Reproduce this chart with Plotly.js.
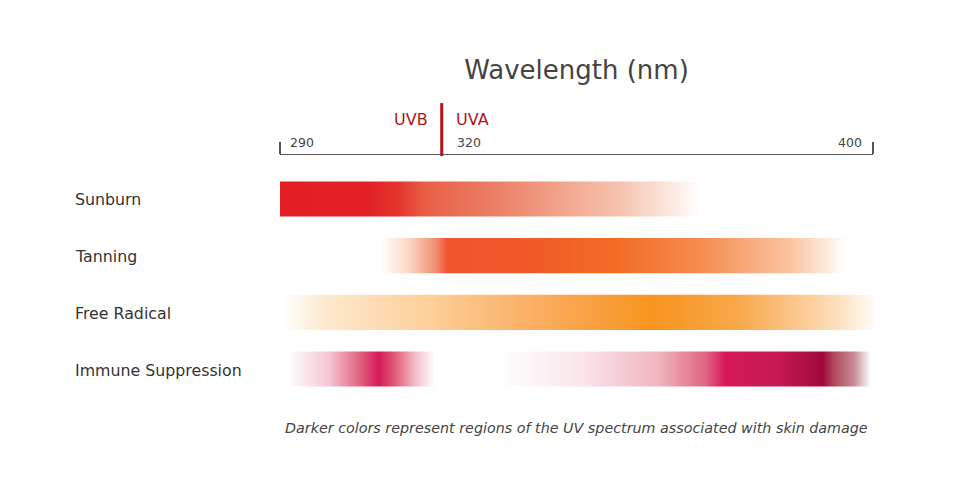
<!DOCTYPE html>
<html>
<head>
<meta charset="utf-8">
<script src="https://cdn.plot.ly/plotly-3.0.1.min.js"></script>
<style>html,body{margin:0;padding:0;background:#fff;}#chart{width:960px;height:483px;}</style>
</head>
<body>
<div id="chart"></div>
<script>
// ---- data ----
const effects = ["Sunburn", "Tanning", "Free Radical", "Immune Suppression"];

const sunburnNm = [290, 307, 312, 317, 331, 344, 353, 360, 368];
const sunburnColors = ["#E31E25", "#E32228", "#E4372D", "#E85F46", "#EC8269", "#F2AA91", "#F6C3AF", "#FADED2", "#FFFFFF"];

const tanningNm = [308.5, 314, 319, 321, 334.5, 351, 368, 384.5, 395];
const tanningColors = ["#FFFFFF", "#FAD7C3", "#F08C6E", "#EF552D", "#F0582A", "#F26A24", "#F58C50", "#FAC3A0", "#FFFFFF"];

const radicalNm = [290.4, 299, 317, 338.5, 359, 375, 389, 395, 400];
const radicalColors = ["#FFFFFF", "#FDE8CD", "#FDD09B", "#FAAC5F", "#F7941E", "#F8A84B", "#FCD0A0", "#FEE6CC", "#FFFAF5"];

const immuneNm = [291.3, 299, 304.7, 308.4, 311.3, 315.6, 318.8, 330, 345.8, 360.3, 369, 372.5, 382, 390.7, 392.7, 396.5, 399.6];
const immuneColors = ["#FFFFFF", "#F5C8D2", "#E16482", "#D7195A", "#E15A78", "#F5C8D2", "#FFFFFF", "#FFFFFF", "#FAE6EB", "#F0B4BE", "#E16482", "#D7195A", "#C81955", "#A00A3C", "#AF4658", "#C88C96", "#FFFFFF"];

const tickValues = [290, 320, 400];
const tickLabels = ["290", "320", "400"];
const uvBoundary = 320;
const axisTitle = "Wavelength (nm)";
const caption = "Darker colors represent regions of the UV spectrum associated with skin damage";

// ---- build ----
const rows = [
  [sunburnNm, sunburnColors],
  [tanningNm, tanningColors],
  [radicalNm, radicalColors],
  [immuneNm, immuneColors]
];
const half = 0.31;
const FONT = "DejaVu Sans, Verdana, sans-serif";

const traces = rows.map(([nm, cols], i) => {
  const x0 = nm[0], x1 = nm[nm.length - 1];
  return {
    type: "scatter",
    mode: "none",
    x: [x0, x1, x1, x0, x0],
    y: [i - half, i - half, i + half, i + half, i - half],
    fill: "toself",
    fillgradient: {
      type: "horizontal",
      start: x0,
      stop: x1,
      colorscale: nm.map((v, k) => [(v - x0) / (x1 - x0), cols[k]])
    },
    hoverinfo: "skip",
    showlegend: false
  };
});

const annotations = [];
effects.forEach((name, i) => {
  annotations.push({
    text: name, xref: "paper", x: -0.3491, xanchor: "left",
    yref: "y", y: i, yanchor: "middle", yshift: -1, showarrow: false,
    font: {family: FONT, size: 15.8, color: "#333333"}
  });
});
// tick labels
const tickFont = {family: FONT, size: 12.5, color: "#444"};
annotations.push({text: tickLabels[0], xref: "x", x: tickValues[0], xanchor: "left", xshift: 8,
  yref: "paper", y: 1.049, yanchor: "middle", showarrow: false, font: tickFont});
annotations.push({text: tickLabels[1], xref: "x", x: tickValues[1], xanchor: "left", xshift: 13,
  yref: "paper", y: 1.049, yanchor: "middle", showarrow: false, font: tickFont});
annotations.push({text: tickLabels[2], xref: "x", x: tickValues[2], xanchor: "right", xshift: -9,
  yref: "paper", y: 1.049, yanchor: "middle", showarrow: false, font: tickFont});
// UVB / UVA
const uvFont = {family: FONT, size: 16, color: "#B5121B"};
annotations.push({text: "UVB", xref: "x", x: uvBoundary, xanchor: "right", xshift: -12,
  yref: "paper", y: 1.143, yanchor: "middle", showarrow: false, font: uvFont});
annotations.push({text: "UVA", xref: "x", x: uvBoundary, xanchor: "left", xshift: 12,
  yref: "paper", y: 1.143, yanchor: "middle", showarrow: false, font: uvFont});
// caption
annotations.push({text: "<i>" + caption + "</i>", xref: "paper", x: 0.5, xanchor: "center",
  yref: "paper", y: -0.114, yanchor: "middle", showarrow: false, font: {family: FONT, size: 14.3, color: "#444"}});

const layout = {
  width: 960, height: 483,
  margin: {l: 280, r: 87, t: 155, b: 83},
  paper_bgcolor: "#fff", plot_bgcolor: "#fff",
  title: {text: axisTitle, font: {family: FONT, size: 26, color: "#444"},
    xref: "paper", x: 0.5, xanchor: "center", yref: "container", y: 1 - 70 / 483, yanchor: "middle"},
  xaxis: {
    range: [290, 400], side: "top", showline: true, linecolor: "#555", linewidth: 1.5,
    ticks: "outside", tickvals: [tickValues[0], tickValues[2]], ticklen: 12, tickwidth: 1.5, tickcolor: "#555",
    showticklabels: false, showgrid: false, zeroline: false, fixedrange: true
  },
  yaxis: {range: [3.547, -0.776], visible: false, fixedrange: true},
  shapes: [{type: "line", xref: "x", x0: uvBoundary, x1: uvBoundary, yref: "paper", y0: 0.996, y1: 1.212,
    line: {color: "#B5121B", width: 3}}],
  annotations: annotations
};

Plotly.newPlot("chart", traces, layout, {displayModeBar: false, staticPlot: true});
</script>
</body>
</html>
